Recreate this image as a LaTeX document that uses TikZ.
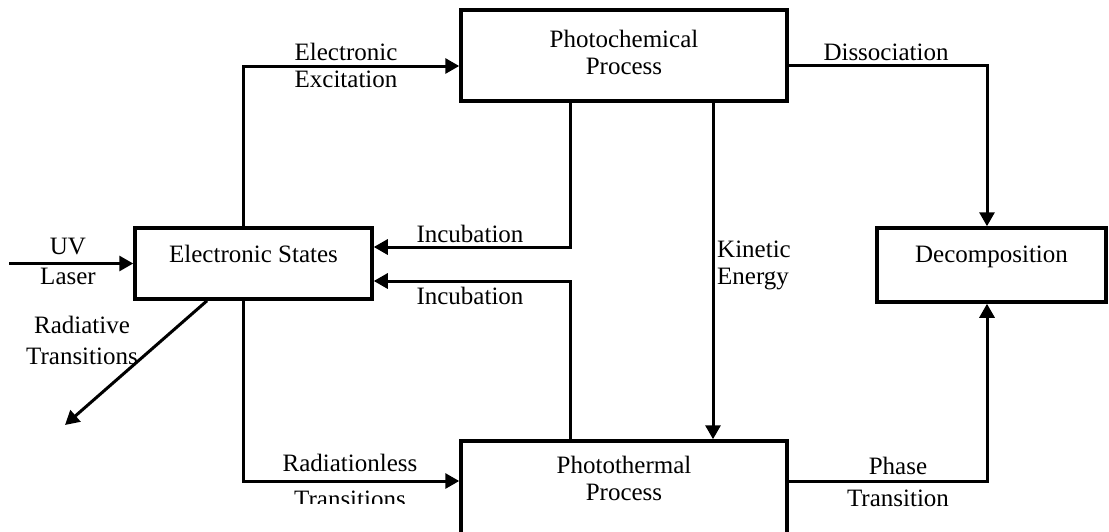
\documentclass[tikz,border=0pt]{standalone}
\usepackage{fontspec}
\setmainfont{Liberation Serif}
\usepackage{tikz}
\usetikzlibrary{arrows.meta}
\newcommand{\lblfont}{\fontsize{25}{27}\selectfont}

\begin{document}
\begin{tikzpicture}[x=1pt,y=-1pt,
 box/.style={draw,line width=3.5pt,font=\lblfont,align=center,inner sep=0pt},
 arrow/.style={-{Triangle[length=14pt,width=15pt]},line width=3pt},
 note/.style={font=\lblfont,align=center,inner sep=0pt}]
 \useasboundingbox (0,0) rectangle (1109,531);
 \node[box,minimum width=237pt,minimum height=71pt,text depth=20pt] (es) at (253.5,263.5)
   {Electronic States};
 \node[box,minimum width=326pt,minimum height=91pt,text depth=7pt] (pchem) at (624,55.5)
   {Photochemical\\Process};
 \node[box,minimum width=326pt,minimum height=104pt,text depth=30pt] (pth) at (624,493)
   {Photothermal\\Process};
 \node[box,minimum width=229pt,minimum height=74pt,text depth=21pt] (dec) at (991.5,265)
   {Decomposition};
 \coordinate (uvin) at (9,263.5);
 \coordinate (radout) at (65,425);
 % labels
 \node[note] (uv) at (68,261.5) {UV\\[3pt]Laser};
 \node[note] (rad) at (82,340.5) {Radiative\\[4pt]Transitions};
 \node[note] (exc) at (346,65.5) {Electronic\\Excitation};
 \node[note] (dis) at (886,52.5) {Dissociation};
 \node[note] (incA) at (470,233.5) {Incubation};
 \node[note] (incB) at (470,295.5) {Incubation};
 \node[note,align=left,anchor=west] (kin) at (717,265) {Kinetic\\Energy};
 \begin{scope}
  \clip (250,440) rectangle (458,503);
  \node[note] (rless) at (350,481) {Radiationless\\[9pt]Transitions};
 \end{scope}
 \node[note] (phase) at (898,481.5) {Phase\\[5pt]Transition};
 % connectors
 \draw[arrow] (uvin) -- (es.west);
 \draw[arrow] ([xshift=-46.5pt]es.south) -- (radout);
 \draw[arrow] ([xshift=-10.5pt]es.north) |- ([yshift=-10.5pt]pchem.west);
 \draw[arrow] ([xshift=-10.5pt]es.south) |- ([yshift=12pt]pth.west);
 \draw[arrow] ([xshift=-54pt]pchem.south) |- ([yshift=16.5pt]es.east);
 \draw[arrow] ([xshift=-54pt]pth.north) |- ([yshift=-17.5pt]es.east);
 \draw[arrow] ([xshift=89pt]pchem.south) -- ([xshift=89pt]pth.north);
 \draw[arrow] ([yshift=-9.5pt]pchem.east) -| ([xshift=-4.5pt]dec.north);
 \draw[arrow] ([yshift=12pt]pth.east) -| ([xshift=-4.5pt]dec.south);
\end{tikzpicture}
\end{document}
